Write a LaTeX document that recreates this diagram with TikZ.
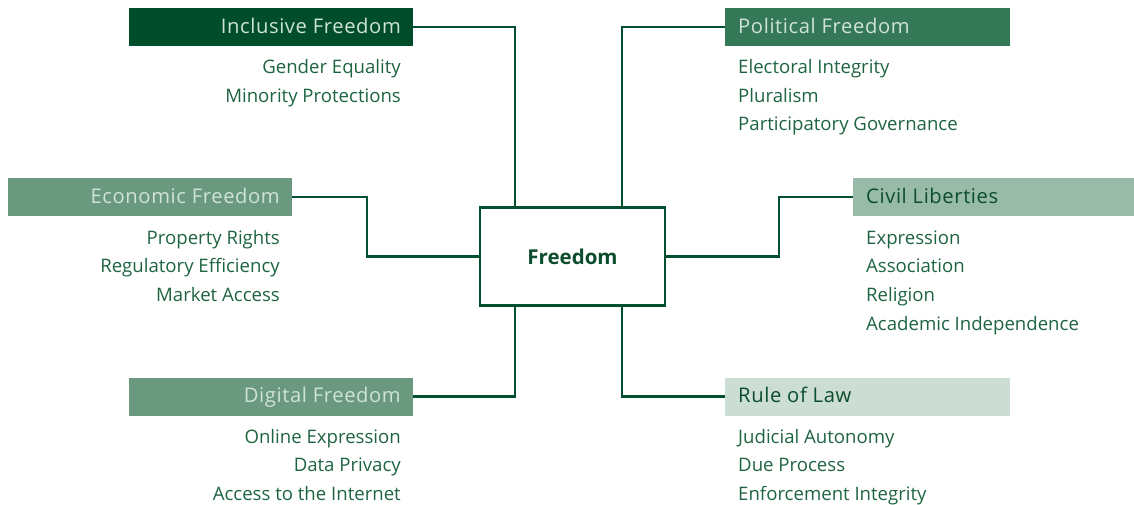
\documentclass[tikz,border=0pt]{standalone}
\usepackage{fontspec}
\setmainfont{Open Sans}
\begin{document}
\begin{tikzpicture}[x=1pt,y=-1pt,
  conn/.style={draw=linegreen,line width=2.2pt},
  hdr/.style={minimum width=284pt,minimum height=38pt,inner sep=0pt},
  htxt/.style={inner sep=0pt,font=\fontsize{20.2}{24}\selectfont\addfontfeatures{LetterSpace=3}},
  item/.style={inner sep=0pt,text=itemgreen,font=\fontsize{18.6}{22}\selectfont},
  ]
\definecolor{linegreen}{HTML}{00502F}
\definecolor{itemgreen}{HTML}{1E6441}
\definecolor{cA}{HTML}{004D2C}
\definecolor{cB}{HTML}{357858}
\definecolor{cC}{HTML}{6A9980}
\definecolor{cD}{HTML}{98BAA8}
\definecolor{cE}{HTML}{CCDDD4}
\definecolor{lighttxt}{HTML}{CFE3D6}
\definecolor{darktxt}{HTML}{0B4D2C}
\useasboundingbox (0,0) rectangle (1134,505);
% center
\node[draw=linegreen,line width=2.2pt,minimum width=185pt,minimum height=98pt,inner sep=0pt] (ctr) at (572.5,256.5) {};
\node[anchor=base,inner sep=0pt,font=\bfseries\fontsize{20.5}{24}\selectfont,text=darktxt] (ctrT) at (572.5,264) {Freedom};
% headers
\node[hdr,fill=cA,minimum width=284pt] (inc) at (271,27) {};
\node[htxt,anchor=base east,text=lighttxt] (incT) at (401,33.2) {Inclusive Freedom};
\node[hdr,fill=cB,minimum width=285pt] (pol) at (867.5,27) {};
\node[htxt,anchor=base west,text=lighttxt] (polT) at (738,33.2) {Political Freedom};
\node[hdr,fill=cC,minimum width=284pt] (eco) at (150,197) {};
\node[htxt,anchor=base east,text=lighttxt] (ecoT) at (280,203.2) {Economic Freedom};
\node[hdr,fill=cD,minimum width=281pt] (civ) at (993.5,197) {};
\node[htxt,anchor=base west,text=darktxt] (civT) at (866,203.2) {Civil Liberties};
\node[hdr,fill=cC,minimum width=284pt] (dig) at (271,396.5) {};
\node[htxt,anchor=base east,text=lighttxt] (digT) at (401,402.7) {Digital Freedom};
\node[hdr,fill=cE,minimum width=285pt] (rul) at (867.5,396.5) {};
\node[htxt,anchor=base west,text=darktxt] (rulT) at (738,402.7) {Rule of Law};
% connectors
\draw[conn] (inc.east) -| (ctr.north -| 515,0);
\draw[conn] (pol.west) -| (ctr.north -| 622,0);
\draw[conn] (eco.east) -- (367,197) |- (ctr.west);
\draw[conn] (civ.west) -- (779,197) |- (ctr.east);
\draw[conn] (dig.east) -| (ctr.south -| 515,0);
\draw[conn] (rul.west) -| (ctr.south -| 622,0);
% items
\node[item,anchor=base east] (i1) at (401,74) {Gender Equality};
\node[item,anchor=base east] (i2) at (401,102.5) {Minority Protections};
\node[item,anchor=base west] (p1) at (738,74) {Electoral Integrity};
\node[item,anchor=base west] (p2) at (738,102.5) {Pluralism};
\node[item,anchor=base west] (p3) at (738,131) {Participatory Governance};
\node[item,anchor=base east] (e1) at (280,244) {Property Rights};
\node[item,anchor=base east] (e2) at (280,272.5) {Regulatory Efficiency};
\node[item,anchor=base east] (e3) at (280,301) {Market Access};
\node[item,anchor=base west] (c1) at (866,244) {Expression};
\node[item,anchor=base west] (c2) at (866,272.5) {Association};
\node[item,anchor=base west] (c3) at (866,301) {Religion};
\node[item,anchor=base west] (c4) at (866,330) {Academic Independence};
\node[item,anchor=base east] (d1) at (401,443) {Online Expression};
\node[item,anchor=base east] (d2) at (401,471.5) {Data Privacy};
\node[item,anchor=base east] (d3) at (401,500) {Access to the Internet};
\node[item,anchor=base west] (r1) at (738,443) {Judicial Autonomy};
\node[item,anchor=base west] (r2) at (738,471.5) {Due Process};
\node[item,anchor=base west] (r3) at (738,500) {Enforcement Integrity};
\end{tikzpicture}
\end{document}
